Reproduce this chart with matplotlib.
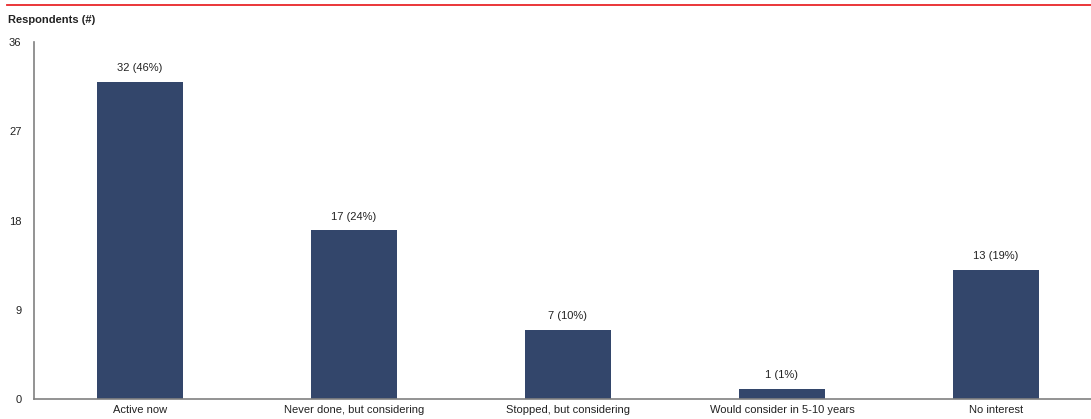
import numpy as np
import matplotlib
matplotlib.use("Agg")
import matplotlib.pyplot as plt
from matplotlib.lines import Line2D

plt.rcParams['font.family'] = ['Liberation Sans', 'DejaVu Sans']

categories = ["Active now", "Never done, but considering", "Stopped, but considering",
              "Would consider in 5-10 years", "No interest"]
counts = [32, 17, 7, 1, 13]
shares = [46, 24, 10, 1, 19]
yticks = [0, 9, 18, 27, 36]

fig = plt.figure(figsize=(10.91, 4.19), dpi=100)
ax = fig.add_axes([0.0312, 0.0477, 0.9688, 0.852])

x = np.arange(len(categories))
ax.bar(x, counts, width=0.40, color='#33466b')
for xi, c, s in zip(x, counts, shares):
    ax.text(xi, c + 0.9, f"{c} ({s}%)", ha='center', va='bottom', fontsize=8, color='#222222')

ax.set_xlim(-0.495, 4.444)
ax.set_ylim(0, 36)
ax.set_yticks(yticks)
ax.set_xticks(x)
ax.set_xticklabels(categories)
ax.tick_params(axis='both', length=0, labelsize=8, colors='#222222')
ax.tick_params(axis='y', pad=9)
ax.tick_params(axis='x', pad=4)
for sp in ['top', 'right']:
    ax.spines[sp].set_visible(False)
for sp in ['left', 'bottom']:
    ax.spines[sp].set_color('#808080')
    ax.spines[sp].set_linewidth(1.2)

fig.text(0.0075, 0.952, "Respondents (#)", fontsize=8, fontweight='bold', ha='left', va='center', color='#222222')
fig.add_artist(Line2D([0.0065, 1.0], [0.988, 0.988], transform=fig.transFigure, color='#e8262a', linewidth=1.3))

fig.savefig("out.png", dpi=100)
